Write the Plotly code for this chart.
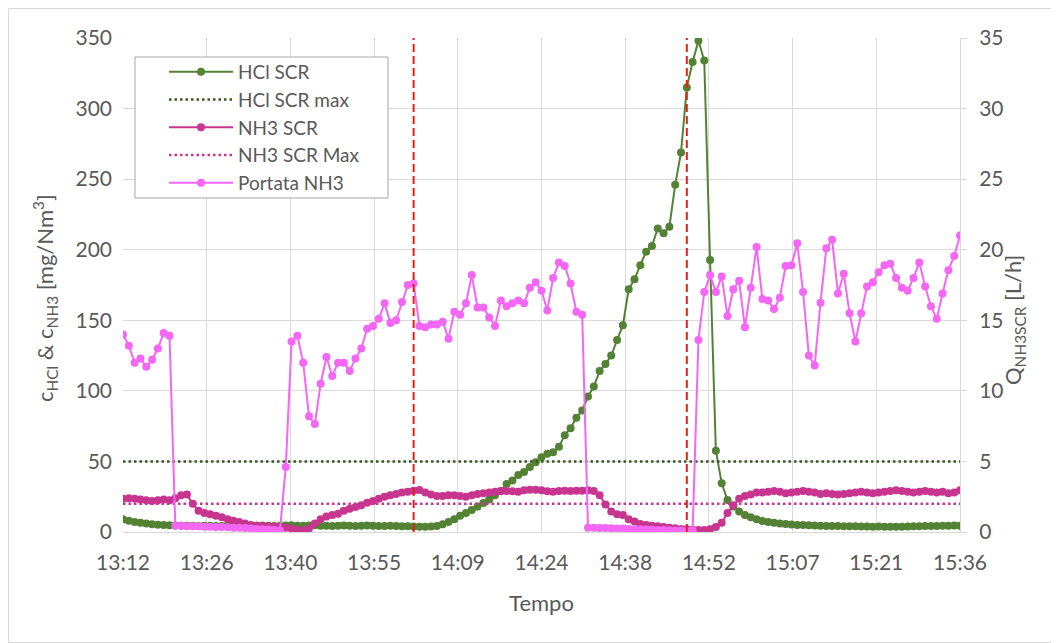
import plotly.graph_objects as go
import pandas as pd

# ---------------- data ----------------
start_time = "2000-01-01 13:12"
n_points = 145  # one reading per minute, 13:12 -> 15:36

hcl_scr = [
    9.0, 8.0, 7.0, 6.5, 6.0, 5.5, 5.2, 5.0, 4.8,
    4.6, 4.5, 4.5, 4.4, 4.3, 4.5, 4.4, 4.2, 4.3, 4.4,
    4.5, 4.3, 4.2, 4.4, 4.5, 4.6, 4.4, 4.3, 4.5, 4.6,
    4.7, 4.5, 4.4, 4.6, 4.7, 4.5, 4.4, 4.3, 4.5, 4.6,
    4.4, 4.3, 4.5, 4.6, 4.4, 4.3, 4.2, 4.4, 4.3, 4.1,
    4.0, 3.9, 3.8, 3.8, 3.9, 4.2,
    5.5, 7.0, 9.0, 11.5, 13.5, 15.6, 18.0, 20.5, 23.0, 26.0,
    29.0, 34.0, 36.5, 40.4, 42.5, 46.0, 49.5, 53.0, 55.5, 56.5,
    60.4, 68.5, 73.5, 81.0, 86.0, 96.0, 103.0, 114.0, 119.0, 125.0,
    136.0, 146.5, 172.0, 179.0, 189.0, 198.6, 202.6, 215.0, 211.6, 216.3,
    246.0, 268.8, 315.0, 333.0, 348.0, 334.0, 192.7, 57.6, 34.5, 22.7,
    18.0, 14.5, 12.0, 10.5, 9.0, 7.8, 7.0, 6.5, 6.0, 5.6,
    5.3, 5.0, 5.0, 4.8, 4.6, 4.5, 4.3, 4.2, 4.2, 4.1,
    4.0, 4.0, 3.9, 3.9, 3.8, 3.9, 3.8, 3.8, 3.7, 3.8,
    3.9, 4.0, 4.1, 4.2, 4.2, 4.3, 4.4, 4.5, 4.6, 4.5,
]

nh3_scr = [
    23.5, 24.0, 23.5, 23.0, 22.5, 22.0, 22.5, 23.0, 22.5, 24.0,
    26.0, 26.5, 20.0, 15.0, 13.5, 12.5, 11.5, 10.5, 9.0, 8.0,
    7.0, 6.0, 5.0, 4.5, 4.2, 4.0, 3.8, 3.5, 3.0, 2.3,
    1.5, 1.2, 2.5, 6.0, 9.0, 11.0, 12.0, 13.0, 15.0, 16.5,
    17.8, 19.0, 20.8, 22.0, 23.5, 25.0, 26.0, 27.0, 28.0, 28.5,
    29.3, 29.8, 28.0,
    26.5, 25.5, 25.5, 26.0, 26.0, 25.5, 25.0, 26.0, 27.0, 27.5,
    28.0, 28.5, 29.0, 29.0, 28.8, 28.5, 29.5, 30.0, 30.0, 29.5,
    28.8, 28.5, 29.0, 29.3, 29.0, 29.3, 29.3, 29.5, 29.0, 26.0,
    19.5, 14.5, 12.5, 12.0, 9.0, 7.5, 5.7, 5.0, 4.5, 4.0,
    3.5, 3.0, 2.6, 2.2, 2.0, 1.6, 1.4, 1.5, 2.0, 3.5,
    6.5, 13.5, 19.0, 23.5, 25.5, 26.5, 28.0,
    28.0, 28.5, 29.0, 28.5, 27.5, 28.0, 28.5, 29.0, 28.5, 28.0,
    27.0, 27.5, 27.0, 26.5, 27.0, 27.5, 28.0, 28.5, 28.0, 27.5,
    28.0, 28.5, 29.0, 29.5, 29.0, 28.5, 28.0, 28.5, 29.0, 28.5,
    28.0, 28.5, 27.5, 28.0, 29.5,
]

portata_nh3 = [
    14.0, 13.2, 12.0, 12.3, 11.7, 12.2, 13.0, 14.1, 13.9,
    0.45, 0.45, 0.40, 0.40, 0.40, 0.38, 0.38, 0.35, 0.35, 0.33,
    0.30, 0.30, 0.28, 0.25, 0.22, 0.20, 0.18, 0.15, 0.10,
    4.6, 13.5, 13.9, 12.0, 8.2, 7.65, 10.5, 12.4, 11.05, 12.0,
    12.0, 11.4, 12.3, 13.0, 14.4, 14.6, 15.1, 16.2, 14.8, 15.0,
    16.3, 17.5, 17.6,
    14.6, 14.5, 14.7, 14.7, 14.9, 13.7, 15.6, 15.4, 16.2, 18.2,
    15.9, 15.9, 15.2, 14.6, 16.4, 16.0, 16.2, 16.4, 16.2, 17.3,
    17.7, 17.1, 15.7, 18.0, 19.1, 18.85, 17.6, 15.6, 15.4,
    0.30, 0.30, 0.28, 0.28, 0.26, 0.25, 0.25, 0.22, 0.20, 0.20,
    0.18, 0.18, 0.15, 0.15, 0.12, 0.10, 0.10, 0.08, 0.10,
    13.6, 17.0, 18.2, 17.0, 18.1, 15.3, 17.2, 17.8, 14.5, 17.3,
    20.2, 16.5, 16.4, 15.8, 16.6, 18.85, 18.9, 20.45, 17.0, 12.5,
    11.8, 16.25, 20.1, 20.7, 16.9, 18.3, 15.5, 13.5, 15.5, 17.4,
    17.7, 18.4, 18.9, 19.0, 18.0, 17.3, 17.1, 18.0, 19.1, 17.4,
    16.0, 15.1, 16.9, 18.55, 19.55, 21.0,
]

hcl_scr_max = 50
nh3_scr_max = 20
event_times = ["2000-01-01 14:02", "2000-01-01 14:49"]

tick_times = ["13:12:00", "13:26:24", "13:40:48", "13:55:12", "14:09:36", "14:24:00",
              "14:38:24", "14:52:48", "15:07:12", "15:21:36", "15:36:00"]
tick_labels = ["13:12", "13:26", "13:40", "13:55", "14:09", "14:24",
               "14:38", "14:52", "15:07", "15:21", "15:36"]

# ---------------- figure ----------------
times = pd.date_range(start_time, periods=n_points, freq="min")
t_first, t_last = times[0], times[-1]

C_HCL = "#548235"
C_HCL_MAX = "#375623"
C_NH3 = "#c8358f"
C_NH3_MAX = "#c8358f"
C_PORT = "#f466f4"
FONT = "Lato"
GREY = "#595959"

W, H = 1051, 635           # page has an 8px body margin
ML, MT = 115, 30
PW, PH = 837, 494
MR, MB = W - ML - PW, H - MT - PH

fig = go.Figure()
fig.add_trace(go.Scatter(x=times[:len(hcl_scr)], y=hcl_scr, name="HCl SCR", mode="lines+markers",
                         line=dict(color=C_HCL, width=2), marker=dict(color=C_HCL, size=8)))
fig.add_trace(go.Scatter(x=[t_first, t_last], y=[hcl_scr_max, hcl_scr_max], name="HCl SCR max",
                         mode="lines", line=dict(color=C_HCL_MAX, width=2.5, dash="2.5px,3px")))
fig.add_trace(go.Scatter(x=times[:len(nh3_scr)], y=nh3_scr, name="NH3 SCR", mode="lines+markers",
                         line=dict(color=C_NH3, width=2), marker=dict(color=C_NH3, size=8)))
fig.add_trace(go.Scatter(x=[t_first, t_last], y=[nh3_scr_max, nh3_scr_max], name="NH3 SCR Max",
                         mode="lines", line=dict(color=C_NH3_MAX, width=2.5, dash="2.5px,3px")))
fig.add_trace(go.Scatter(x=times[:len(portata_nh3)], y=portata_nh3, name="Portata NH3", mode="lines+markers",
                         yaxis="y2", line=dict(color=C_PORT, width=2), marker=dict(color=C_PORT, size=8)))

for et in event_times:
    fig.add_shape(type="line", xref="x", yref="paper", x0=et, x1=et, y0=0, y1=1,
                  line=dict(color="#e0201b", width=2, dash="8px,4px"))

# outer chart border (figure edge)
fig.add_shape(type="rect", xref="paper", yref="paper",
              x0=(0.5 - ML) / PW, x1=(W - 1 - ML) / PW,
              y0=-(MB - 0.5) / PH, y1=(PH + MT - 0.5) / PH,
              line=dict(color="#d9d9d9", width=1), layer="below")

# legend box
fig.add_shape(type="rect", xref="paper", yref="paper",
              x0=12 / PW, x1=265 / PW, y0=(494 - 160) / PH, y1=(494 - 19) / PH,
              line=dict(color="#a6a6a6", width=1), fillcolor="white", layer="above")

# axis titles
fig.add_annotation(text="c<sub>HCl</sub> & c<sub>NH3</sub> [mg/Nm<sup>3</sup>]",
                   xref="paper", yref="paper", x=-78 / PW, y=(494 - 260) / PH,
                   xanchor="center", yanchor="middle", textangle=-90, showarrow=False,
                   font=dict(family=FONT, size=22, color=GREY))
fig.add_annotation(text="Q<sub>NH3SCR</sub> [L/h]",
                   xref="paper", yref="paper", x=1 + 54 / PW, y=(494 - 282) / PH,
                   xanchor="center", yanchor="middle", textangle=-90, showarrow=False,
                   font=dict(family=FONT, size=22, color=GREY))

tickvals = ["2000-01-01 " + t for t in tick_times]

fig.update_layout(
    width=W, height=H,
    margin=dict(l=ML, r=MR, t=MT, b=MB),
    paper_bgcolor="white", plot_bgcolor="white",
    font=dict(family=FONT, size=20, color=GREY),
    showlegend=True,
    legend=dict(x=41 / PW, y=(494 - 15) / PH, xanchor="left", yanchor="top",
                bgcolor="rgba(0,0,0,0)", borderwidth=0,
                font=dict(family=FONT, size=19, color=GREY), tracegroupgap=0,
                itemwidth=64),
    xaxis=dict(range=[t_first, t_last], tickvals=tickvals, ticktext=tick_labels,
               showgrid=True, gridcolor="#d9d9d9", gridwidth=1,
               showline=True, linecolor="#d9d9d9", ticks="", ticklabelstandoff=12,
               title=dict(text="Tempo", font=dict(family=FONT, size=22, color=GREY), standoff=22),
               tickfont=dict(family=FONT, size=21, color=GREY), zeroline=False),
    yaxis=dict(range=[0, 350], dtick=50, showgrid=True, gridcolor="#d9d9d9", gridwidth=1,
               zeroline=False, showline=False, ticks="", ticklabelstandoff=10,
               tickfont=dict(family=FONT, size=21, color=GREY)),
    yaxis2=dict(range=[0, 35], dtick=5, overlaying="y", side="right", showgrid=False,
                zeroline=False, showline=True, linecolor="#d9d9d9", ticks="outside",
                ticklen=6, tickcolor="#d9d9d9", ticklabelstandoff=8,
                tickfont=dict(family=FONT, size=21, color=GREY)),
)

fig.write_html("out.html")
